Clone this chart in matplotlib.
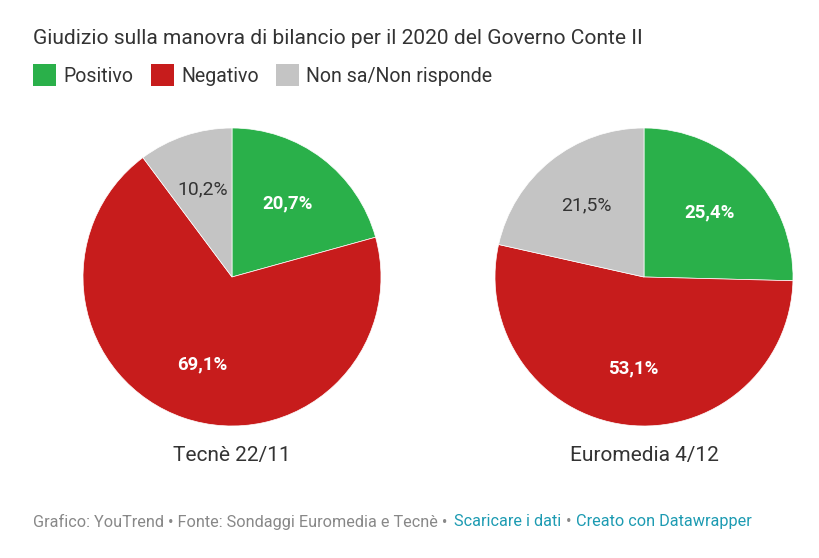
import math
import matplotlib
matplotlib.use('Agg')
import matplotlib.pyplot as plt
from matplotlib.patches import Rectangle

plt.rcParams['font.family'] = ['Roboto', 'DejaVu Sans']

title = "Giudizio sulla manovra di bilancio per il 2020 del Governo Conte II"
categories = ['Positivo', 'Negativo', 'Non sa/Non risponde']
colors = ['#2ab04a', '#c71c1c', '#c4c4c4']
label_colors = ['white', 'white', '#333333']
polls = ['Tecnè 22/11', 'Euromedia 4/12']
tecne = [20.7, 69.1, 10.2]
euromedia = [25.4, 53.1, 21.5]

W, H = 819, 558
fig = plt.figure(figsize=(W / 100, H / 100), dpi=100)

# Pies, one axes each
for vals, poll, cx in zip([tecne, euromedia], polls, [232, 644]):
    r = 149
    ax = fig.add_axes([(cx - r) / W, 1 - (277 + r) / H, 2 * r / W, 2 * r / H])
    wedges, _ = ax.pie(vals, colors=colors, startangle=90, counterclock=False, radius=1,
                       wedgeprops={'edgecolor': 'white', 'linewidth': 0.5})
    ax.set_xlim(-1, 1)
    ax.set_ylim(-1, 1)
    for w, v, c in zip(wedges, vals, label_colors):
        ang = math.radians((w.theta1 + w.theta2) / 2)
        bold = c == 'white'
        ax.text(0.615 * math.cos(ang), 0.62 * math.sin(ang), f"{v:.1f}%".replace('.', ','),
                color=c, ha='center', va='center', fontsize=13.4 if bold else 13.9,
                fontweight='bold' if bold else 'normal')
    fig.text(cx / W, 1 - 455 / H, poll, ha='center', va='center', fontsize=15, color='#333333')

fig.text(33 / W, 1 - 38.5 / H, title, ha='left', va='center', fontsize=15.1, color='#333333')

# Legend
for label, c, x, tx in zip(categories, colors, [33, 151, 276], [63, 181, 306]):
    fig.add_artist(Rectangle((x / W, 1 - 86 / H), 23 / W, 22 / H, color=c, lw=0, transform=fig.transFigure))
    fig.text(tx / W, 1 - 77 / H, label, ha='left', va='center', fontsize=14.05, color='#333333')

# Footer
fig.text(33 / W, 1 - 521.5 / H, "Grafico: YouTrend • Fonte: Sondaggi Euromedia e Tecnè •", ha='left', va='center', fontsize=11.7, color='#888888')
fig.text(454 / W, 1 - 521.5 / H, "Scaricare i dati", ha='left', va='center', fontsize=11.7, color='#1d9bb2')
fig.text(566 / W, 1 - 521.5 / H, "•", ha='left', va='center', fontsize=11.7, color='#888888')
fig.text(576 / W, 1 - 521.5 / H, "Creato con Datawrapper", ha='left', va='center', fontsize=11.7, color='#1d9bb2')

fig.savefig('out.png', dpi=100)
